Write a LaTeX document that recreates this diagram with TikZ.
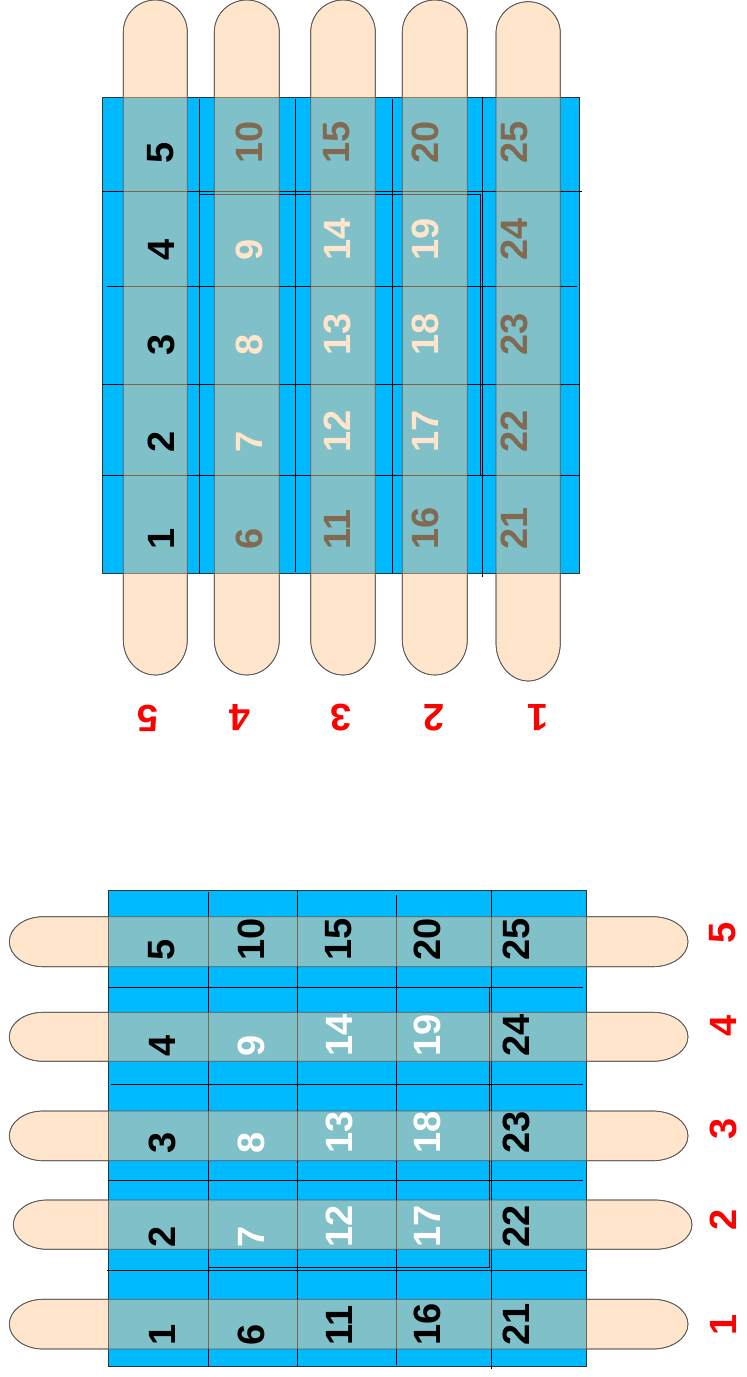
\documentclass[tikz,border=0pt]{standalone}
\usepackage{fontspec}
\setmainfont{Liberation Sans}
\definecolor{peach}{RGB}{255,229,204}
\definecolor{bluefill}{RGB}{0,186,255}
\definecolor{ovl}{RGB}{255,198,147}
\definecolor{brownt}{RGB}{130,106,82}
\definecolor{redt}{RGB}{255,0,0}
\tikzset{
  finger/.style={fill=peach, draw=black!65, line width=0.7pt},
  fingerline/.style={draw=black!65, line width=0.7pt},
  bluerect/.style={fill=bluefill, draw=black!80, line width=0.7pt},
  gridl/.style={draw=black, line width=0.6pt},
  num/.style={inner sep=0pt, font=\bfseries\fontsize{38}{38}\selectfont},
  lab/.style={inner sep=0pt, text=redt, font=\bfseries\fontsize{38}{38}\selectfont},
}
\newcommand{\vfinger}[7]{% x1 x2 top stTop stBot bot opts
  (#1,#4) -- (#1,#5) arc[start angle=180,end angle=360,x radius={(#2-#1)/2*1pt},y radius={(#6-#5)*1pt}]
  -- (#2,#4) arc[start angle=0,end angle=180,x radius={(#2-#1)/2*1pt},y radius={(#4-#3)*1pt}] -- cycle}
\newcommand{\hfinger}[6]{% y1 y2 left stL stR right
  (#4,#1) -- (#5,#1) arc[start angle=90,end angle=-90,x radius={(#6-#5)*1pt},y radius={(#2-#1)/2*1pt}]
  -- (#4,#2) arc[start angle=270,end angle=90,x radius={(#4-#3)*1pt},y radius={(#2-#1)/2*1pt}] -- cycle}
\begin{document}
\begin{tikzpicture}[x=1pt,y=-1pt]
\useasboundingbox (0,0) rectangle (747,1377);
% ---------- TOP FIGURE ----------
\def\topfingers{\vfinger{123.3}{187.3}{0}{32}{640}{675}{} \vfinger{214.3}{279.3}{0}{32}{640}{675}{} \vfinger{310.7}{375.3}{0}{32}{640}{675}{} \vfinger{402.3}{467.3}{0}{32}{640}{675}{} \vfinger{496}{560.3}{1.7}{33}{643}{681}{}}
\path[finger] \topfingers;
\path[bluerect] (102.3,97.3) rectangle (579.7,573.3);
\path[gridl] (102,191.7) -- (582,191.7) (106.7,286.7) -- (577,286.7)
  (102,384.7) -- (580,384.7) (102,475.7) -- (580,475.7)
  (199.3,194) -- (480.7,194) -- (480.7,475.7)
  (199.3,99) -- (199.3,573) (295.7,99) -- (295.7,571.7)
  (392,99) -- (392,573) (482.3,97) -- (482.3,576.7);
\begin{scope}
\clip (102.3,97.3) rectangle (579.7,573.3);
\fill[ovl, fill opacity=0.5] \topfingers;
\end{scope}
\path[fingerline] \topfingers;
% numbers top
\foreach \n/\x/\y/\c in {
  5/161/164/black, 10/249/164/brownt, 15/337/164/brownt, 20/425/164/brownt, 25/514/164/brownt,
  4/161/261/black, 9/249/261/peach, 14/337/261/peach, 19/425/261/peach, 24/514/261/brownt,
  3/161/356/black, 8/249/356/peach, 13/337/356/peach, 18/425/356/peach, 23/514/356/brownt,
  2/161/453/black, 7/249/453/peach, 12/337/453/peach, 17/425/453/peach, 22/514/453/brownt,
  1/161/550/black, 6/249/550/brownt, 11/337/550/brownt, 16/425/550/brownt, 21/514/550/brownt}
  \node[num, text=\c, rotate=90, anchor=west] (t\n) at (\x,\y) {\n};
\foreach \n/\x in {5/148, 4/240, 3/341, 2/434, 1/538}
  \node[lab, rotate=180] (tl\n) at (\x,718) {\n};
% ---------- BOTTOM FIGURE ----------
\def\botfingers{\hfinger{916.7}{966.7}{9.3}{43}{653}{688} \hfinger{1012.3}{1061.3}{9.3}{43}{653}{688} \hfinger{1111}{1160.7}{9.3}{43}{653}{688} \hfinger{1200}{1249.3}{13.3}{47}{655}{692} \hfinger{1299.3}{1349}{9.3}{43}{653}{688}}
\path[finger] \botfingers;
\path[bluerect] (108.3,890.7) rectangle (586.7,1366.7);
\path[gridl] (108,987) -- (583,987) (111,1084.3) -- (583,1084.3)
  (108,1180.7) -- (583,1180.7) (106.7,1270.7) -- (586,1270.7)
  (208,1267.3) -- (489,1267.3) -- (489,987)
  (208.3,891.7) -- (208.3,1366) (297.3,890) -- (297.3,1366)
  (396.3,895) -- (396.3,1365) (491,890) -- (491,1369);
\begin{scope}
\clip (108.3,890.7) rectangle (586.7,1366.7);
\fill[ovl, fill opacity=0.5] \botfingers;
\end{scope}
\path[fingerline] \botfingers;
\foreach \n/\x/\y/\c in {
  5/162/961/black, 10/251/961/black, 15/339/961/black, 20/427.5/961/black, 25/516/961/black,
  4/162/1057/black, 9/251/1057/white, 14/339/1057/white, 19/427.5/1057/white, 24/516/1057/black,
  3/162/1154/black, 8/251/1154/white, 13/339/1154/white, 18/427.5/1154/white, 23/516/1154/black,
  2/162/1248/black, 7/251/1248/white, 12/339/1248/white, 17/427.5/1248/white, 22/516/1248/black,
  1/162/1346/black, 6/251/1346/black, 11/339/1346/black, 16/427.5/1346/black, 21/516/1346/black}
  \node[num, text=\c, rotate=90, anchor=west] (b\n) at (\x,\y) {\n};
\foreach \n/\y in {5/933, 4/1026, 3/1129, 2/1220, 1/1325}
  \node[lab, rotate=90] (bl\n) at (723,\y) {\n};
\end{tikzpicture}
\end{document}
